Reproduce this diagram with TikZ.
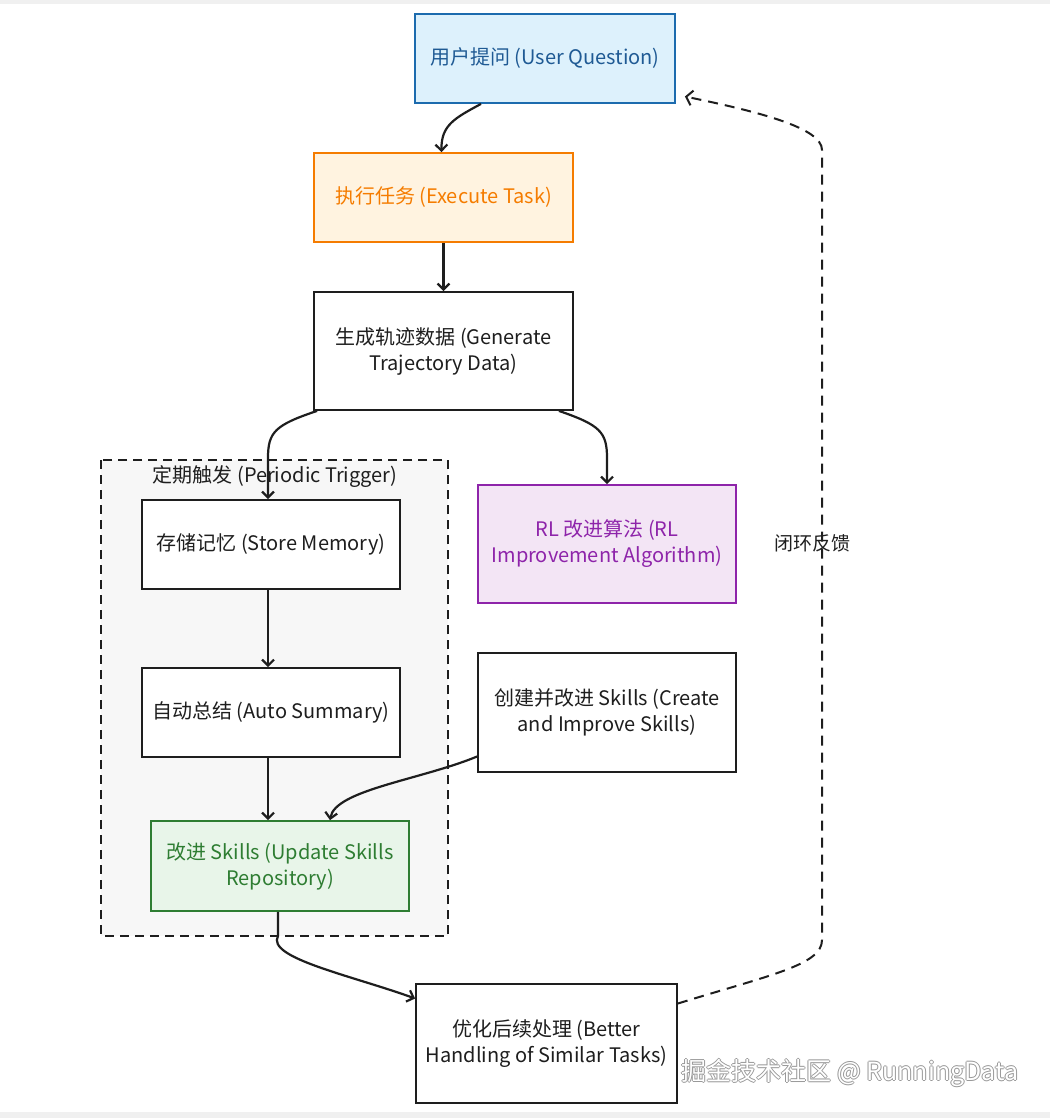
\documentclass[tikz,border=0pt]{standalone}
\usepackage{fontspec}
\setmainfont{Noto Sans CJK SC}
\usepackage{xcolor}
\usetikzlibrary{arrows.meta}
\definecolor{qfill}{HTML}{DDF1FC}
\definecolor{qline}{HTML}{1C6BAE}
\definecolor{qtext}{HTML}{1F5A94}
\definecolor{exfill}{HTML}{FFF3E0}
\definecolor{exline}{HTML}{F57C00}
\definecolor{rlfill}{HTML}{F3E5F5}
\definecolor{rlline}{HTML}{8E24AA}
\definecolor{updfill}{HTML}{E8F5E9}
\definecolor{updline}{HTML}{2E7D32}
\definecolor{grpfill}{HTML}{F7F7F7}
\definecolor{ink}{HTML}{1E1E1E}

\begin{document}
\begin{tikzpicture}[x=1pt,y=-1pt,
    box/.style={draw=ink,line width=1.8pt,fill=white,text=ink,align=center,
      minimum width=258pt,minimum height=89pt,font=\fontsize{20}{26}\selectfont},
    flow/.style={draw=ink,line width=2.2pt,-{Straight Barb[length=6pt,width=12pt]}}]
\useasboundingbox (0,0) rectangle (1050,1118);
\fill[gray!12] (0,0) rectangle (1050,4);
\fill[gray!12] (0,1112) rectangle (1050,1118);

% periodic group
\draw[ink,line width=1.8pt,dash pattern=on 9pt off 6pt,fill=grpfill] (101,460) rectangle (448,936);
\node[text=ink,font=\fontsize{20}{24}\selectfont] (grp) at (275,477) {定期触发 (Periodic Trigger)};

\node[box,fill=qfill,draw=qline,text=qtext,minimum width=260pt] (q) at (545,58.5) {用户提问 (User Question)};
\node[box,fill=exfill,draw=exline,text=exline,minimum width=259pt] (exec) at (443.5,197.5) {执行任务 (Execute Task)};
\node[box,minimum width=259pt,minimum height=118pt] (traj) at (443.5,351) {生成轨迹数据 (Generate\\Trajectory Data)};
\node[box] (store) at (271,544.5) {存储记忆 (Store Memory)};
\node[box] (auto) at (271,712.5) {自动总结 (Auto Summary)};
\node[box,fill=updfill,draw=updline,text=updline,minimum height=90pt] (upd) at (280,866) {改进 Skills (Update Skills\\Repository)};
\node[box,fill=rlfill,draw=rlline,text=rlline,minimum height=118pt] (rl) at (607,544) {RL 改进算法 (RL\\Improvement Algorithm)};
\node[box,minimum height=119pt] (create) at (607,712.5) {创建并改进 Skills (Create\\and Improve Skills)};
\node[box,minimum width=261pt,minimum height=119pt] (better) at (546.5,1043.5) {优化后续处理 (Better\\Handling of Similar Tasks)};
\node[text=ink,font=\fontsize{19}{22}\selectfont] (fb) at (812,543) {闭环反馈};

% connectors
\draw[flow] ([xshift=-64pt]q.south) .. controls (455,118) and (441,125) .. ([xshift=-2pt]exec.north);
\draw[flow] (exec.south) -- (traj.north);
\draw[flow] ([xshift=4pt]traj.south west) .. controls (275,425) and (268,432) .. (268,458) -- ([xshift=-3pt]store.north);
\draw[flow] ([xshift=-15pt]traj.south east) .. controls (600,425) and (607,432) .. (607,458) -- (rl.north);
\draw[flow] ([xshift=-3pt]store.south) -- ([xshift=-3pt]auto.north);
\draw[flow] ([xshift=-3pt]auto.south) -- ([xshift=-12pt]upd.north);
\draw[flow] ([yshift=-44pt]create.west) .. controls (420,780) and (335,790) .. ([xshift=50pt]upd.north);
\draw[flow] ([xshift=-2pt]upd.south) -- ++(0,24) .. controls +(-12,22) and (350,975) .. ([yshift=45pt]better.west);
\draw[ink,line width=2pt,dash pattern=on 10pt off 7pt,-{Straight Barb[length=6pt,width=15pt]}]
  ([yshift=40pt]better.east) .. controls (770,975) and (822,965) .. (822,940) -- (822,150)
  .. controls (822,128) and (760,112) .. ([shift={(9pt,-38pt)}]q.east);

% watermark
\foreach \dx/\dy [count=\i] in {1/0,-1/0,0/1,0/-1} {
  \node[text=gray!80,font=\fontsize{25}{28}\selectfont] (wm\i) at (850+\dx,1073+\dy) {掘金技术社区 @ RunningData};
}
\node[text=white,font=\fontsize{25}{28}\selectfont] (wm) at (850,1073) {掘金技术社区 @ RunningData};
\end{tikzpicture}
\end{document}
